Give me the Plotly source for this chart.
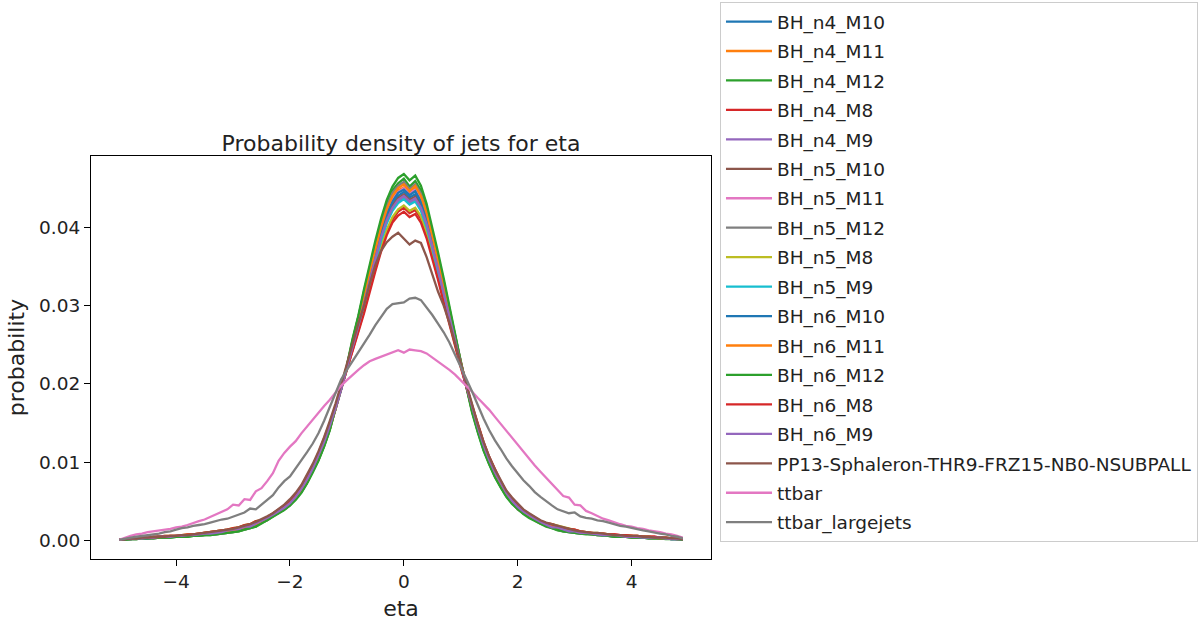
import plotly.graph_objects as go

eta = [-5.0, -4.9, -4.8, -4.7, -4.6, -4.5, -4.4, -4.3, -4.2, -4.1,
       -4.0, -3.9, -3.8, -3.7, -3.6, -3.5, -3.4, -3.3, -3.2, -3.1,
       -3.0, -2.9, -2.8, -2.7, -2.6, -2.5, -2.4, -2.3, -2.2, -2.1,
       -2.0, -1.9, -1.8, -1.7, -1.6, -1.5, -1.4, -1.3, -1.2, -1.1,
       -1.0, -0.9, -0.8, -0.7, -0.6, -0.5, -0.4, -0.3, -0.2, -0.1,
       0.0, 0.1, 0.2, 0.3, 0.4, 0.5, 0.6, 0.7, 0.8, 0.9,
       1.0, 1.1, 1.2, 1.3, 1.4, 1.5, 1.6, 1.7, 1.8, 1.9,
       2.0, 2.1, 2.2, 2.3, 2.4, 2.5, 2.6, 2.7, 2.8, 2.9,
       3.0, 3.1, 3.2, 3.3, 3.4, 3.5, 3.6, 3.7, 3.8, 3.9,
       4.0, 4.1, 4.2, 4.3, 4.4, 4.5, 4.6, 4.7, 4.8, 4.9]

BH_n4_M10 = [
    .0001, .0002, .0002, .0003, .0003, .0004, .0004, .0004, .0005, .0005,
    .0005, .0006, .0006, .0007, .0008, .0008, .0009, .0010, .0011, .0012,
    .0013, .0015, .0017, .0019, .0021,
    .0024, .0028, .0032, .0037, .0041, .0047, .0055, .0065, .0076, .0090,
    .0106, .0124, .0145, .0168, .0194, .0220, .0249, .0277, .0306, .0335,
    .0364, .0391, .0413, .0430, .0440, .0445, .0438, .0442, .0430, .0408,
    .0380, .0350, .0318, .0287, .0255, .0225, .0196, .0168, .0143, .0121,
    .0101, .0086, .0071, .0060, .0050, .0042, .0036, .0031, .0027, .0023, .0020,
    .0018, .0016, .0014, .0013, .0012, .0011, .0010, .0009, .0008, .0008,
    .0007, .0007, .0006, .0006, .0005, .0005, .0005, .0004, .0004, .0004,
    .0003, .0003, .0002, .0002]

BH_n4_M11 = [
    .0001, .0002, .0003, .0003, .0003, .0004, .0004, .0005, .0005, .0005,
    .0006, .0006, .0007, .0007, .0008, .0009, .0009, .0010, .0011, .0013,
    .0014, .0015, .0018, .0018, .0022,
    .0024, .0027, .0031, .0036, .0041, .0046, .0054, .0063, .0075, .0089,
    .0105, .0123, .0144, .0168, .0194, .0222, .0253, .0281, .0311, .0341,
    .0370, .0397, .0420, .0437, .0447, .0451, .0446, .0450, .0437, .0415,
    .0386, .0356, .0324, .0290, .0258, .0226, .0197, .0167, .0142, .0119,
    .0100, .0084, .0070, .0058, .0049, .0041, .0035, .0031, .0026, .0022, .0019,
    .0019, .0016, .0015, .0013, .0012, .0011, .0010, .0009, .0009, .0008,
    .0007, .0007, .0006, .0006, .0006, .0005, .0005, .0004, .0004, .0003,
    .0003, .0003, .0002, .0002]

BH_n4_M12 = [
    .0001, .0001, .0002, .0002, .0003, .0003, .0003, .0004, .0004, .0004,
    .0005, .0005, .0005, .0006, .0006, .0007, .0007, .0008, .0009, .0010,
    .0011, .0012, .0014, .0016, .0018,
    .0023, .0026, .0031, .0035, .0040, .0045, .0053, .0062, .0074, .0088,
    .0103, .0121, .0142, .0169, .0195, .0223, .0256, .0285, .0318, .0349,
    .0379, .0406, .0430, .0447, .0456, .0462, .0452, .0459, .0447, .0424,
    .0395, .0364, .0331, .0295, .0262, .0228, .0197, .0165, .0139, .0116,
    .0098, .0082, .0069, .0057, .0048, .0040, .0035, .0030, .0026, .0022, .0019,
    .0015, .0013, .0012, .0011, .0010, .0009, .0008, .0008, .0007, .0006,
    .0006, .0005, .0005, .0005, .0004, .0004, .0004, .0003, .0003, .0003,
    .0002, .0002, .0002, .0001]

BH_n4_M8 = [
    .0001, .0002, .0003, .0003, .0004, .0004, .0005, .0005, .0005, .0006,
    .0006, .0007, .0007, .0008, .0009, .0010, .0011, .0012, .0013, .0014,
    .0015, .0017, .0019, .0021, .0024,
    .0026, .0030, .0034, .0039, .0044, .0051, .0059, .0069, .0081, .0095,
    .0111, .0129, .0149, .0170, .0194, .0218, .0243, .0268, .0293, .0321,
    .0348, .0373, .0394, .0410, .0420, .0425, .0418, .0422, .0411, .0390,
    .0364, .0336, .0306, .0278, .0249, .0222, .0196, .0171, .0148, .0125,
    .0106, .0090, .0075, .0063, .0053, .0045, .0039, .0033, .0029, .0025, .0022,
    .0021, .0018, .0016, .0015, .0014, .0012, .0011, .0010, .0009, .0009,
    .0008, .0008, .0007, .0007, .0006, .0006, .0005, .0005, .0005, .0004,
    .0004, .0003, .0003, .0002]

BH_n4_M9 = [
    .0001, .0002, .0002, .0003, .0003, .0003, .0004, .0004, .0005, .0005,
    .0005, .0006, .0006, .0007, .0007, .0008, .0009, .0010, .0011, .0012,
    .0014, .0014, .0016, .0020, .0021,
    .0025, .0029, .0033, .0038, .0043, .0049, .0057, .0066, .0078, .0092,
    .0108, .0126, .0147, .0169, .0194, .0220, .0246, .0273, .0301, .0330,
    .0358, .0385, .0407, .0423, .0433, .0438, .0431, .0435, .0423, .0402,
    .0374, .0345, .0314, .0284, .0253, .0224, .0197, .0170, .0145, .0122,
    .0103, .0087, .0073, .0061, .0052, .0044, .0037, .0032, .0028, .0024, .0021,
    .0017, .0017, .0014, .0012, .0012, .0010, .0010, .0009, .0008, .0007,
    .0007, .0007, .0006, .0005, .0005, .0005, .0004, .0004, .0004, .0004,
    .0003, .0002, .0002, .0002]

BH_n5_M10 = [
    .0001, .0002, .0003, .0003, .0003, .0004, .0004, .0005, .0005, .0005,
    .0006, .0006, .0007, .0007, .0008, .0009, .0009, .0010, .0011, .0013,
    .0014, .0015, .0018, .0018, .0022,
    .0024, .0028, .0033, .0037, .0042, .0048, .0056, .0065, .0077, .0091,
    .0107, .0125, .0146, .0168, .0193, .0220, .0248, .0275, .0303, .0333,
    .0362, .0388, .0410, .0427, .0437, .0442, .0435, .0439, .0427, .0405,
    .0378, .0348, .0317, .0286, .0254, .0225, .0196, .0169, .0144, .0121,
    .0102, .0086, .0072, .0060, .0051, .0043, .0037, .0032, .0027, .0023, .0020,
    .0019, .0016, .0015, .0013, .0012, .0011, .0010, .0009, .0009, .0008,
    .0007, .0007, .0006, .0006, .0006, .0005, .0005, .0004, .0004, .0003,
    .0003, .0003, .0002, .0002]

BH_n5_M11 = [
    .0001, .0002, .0002, .0003, .0003, .0004, .0004, .0004, .0005, .0005,
    .0005, .0006, .0006, .0007, .0008, .0008, .0009, .0010, .0011, .0012,
    .0013, .0015, .0017, .0019, .0021,
    .0023, .0027, .0031, .0036, .0041, .0046, .0054, .0063, .0075, .0089,
    .0105, .0123, .0144, .0168, .0194, .0222, .0252, .0280, .0310, .0340,
    .0369, .0396, .0419, .0436, .0445, .0450, .0444, .0448, .0435, .0413,
    .0385, .0355, .0323, .0290, .0258, .0226, .0197, .0167, .0142, .0119,
    .0100, .0084, .0070, .0058, .0049, .0041, .0035, .0031, .0026, .0022, .0019,
    .0018, .0016, .0014, .0013, .0012, .0011, .0010, .0009, .0008, .0008,
    .0007, .0007, .0006, .0006, .0005, .0005, .0005, .0004, .0004, .0004,
    .0003, .0003, .0002, .0002]

BH_n5_M12 = [
    .0001, .0002, .0002, .0002, .0003, .0003, .0003, .0004, .0004, .0005,
    .0005, .0005, .0006, .0006, .0006, .0007, .0008, .0008, .0009, .0010,
    .0011, .0013, .0014, .0016, .0019,
    .0023, .0026, .0031, .0035, .0040, .0045, .0053, .0062, .0074, .0088,
    .0103, .0121, .0142, .0169, .0195, .0223, .0255, .0284, .0316, .0346,
    .0376, .0403, .0427, .0444, .0453, .0458, .0449, .0455, .0443, .0421,
    .0392, .0361, .0329, .0294, .0261, .0227, .0197, .0165, .0140, .0117,
    .0098, .0082, .0069, .0057, .0048, .0040, .0035, .0030, .0026, .0022, .0019,
    .0016, .0014, .0012, .0011, .0010, .0009, .0009, .0008, .0007, .0007,
    .0006, .0005, .0005, .0005, .0004, .0004, .0004, .0003, .0003, .0003,
    .0003, .0002, .0002, .0001]

BH_n5_M8 = [
    .0001, .0002, .0003, .0003, .0004, .0004, .0004, .0005, .0006, .0006,
    .0006, .0007, .0008, .0008, .0009, .0010, .0011, .0012, .0013, .0014,
    .0016, .0017, .0020, .0021, .0025,
    .0026, .0030, .0034, .0039, .0044, .0050, .0058, .0068, .0080, .0094,
    .0110, .0128, .0148, .0170, .0194, .0219, .0244, .0269, .0295, .0323,
    .0350, .0376, .0397, .0413, .0423, .0428, .0421, .0425, .0414, .0393,
    .0366, .0338, .0308, .0279, .0250, .0222, .0196, .0171, .0147, .0124,
    .0105, .0089, .0075, .0062, .0053, .0045, .0038, .0033, .0029, .0025, .0022,
    .0021, .0019, .0017, .0015, .0013, .0012, .0011, .0010, .0010, .0009,
    .0008, .0007, .0007, .0006, .0006, .0006, .0005, .0005, .0004, .0004,
    .0004, .0003, .0003, .0002]

BH_n5_M9 = [
    .0001, .0002, .0002, .0003, .0003, .0004, .0004, .0004, .0005, .0005,
    .0005, .0006, .0006, .0007, .0008, .0008, .0009, .0010, .0011, .0012,
    .0013, .0015, .0017, .0019, .0021,
    .0025, .0029, .0033, .0038, .0043, .0049, .0057, .0067, .0079, .0093,
    .0109, .0127, .0147, .0169, .0194, .0219, .0246, .0272, .0300, .0329,
    .0357, .0383, .0405, .0421, .0431, .0436, .0429, .0433, .0421, .0400,
    .0373, .0344, .0313, .0283, .0252, .0224, .0197, .0170, .0146, .0123,
    .0104, .0088, .0074, .0061, .0052, .0044, .0038, .0032, .0028, .0024, .0021,
    .0017, .0017, .0014, .0012, .0012, .0010, .0010, .0009, .0008, .0007,
    .0007, .0007, .0006, .0005, .0005, .0005, .0004, .0004, .0004, .0004,
    .0003, .0002, .0002, .0002]

BH_n6_M10 = [
    .0001, .0002, .0002, .0003, .0003, .0003, .0004, .0004, .0005, .0005,
    .0005, .0006, .0006, .0007, .0007, .0008, .0009, .0010, .0011, .0012,
    .0014, .0014, .0016, .0020, .0021,
    .0024, .0028, .0032, .0036, .0041, .0047, .0055, .0064, .0076, .0090,
    .0106, .0124, .0145, .0168, .0194, .0221, .0251, .0279, .0308, .0338,
    .0367, .0394, .0417, .0433, .0444, .0448, .0441, .0446, .0433, .0411,
    .0383, .0353, .0321, .0289, .0257, .0226, .0196, .0168, .0143, .0120,
    .0101, .0085, .0071, .0059, .0050, .0042, .0036, .0031, .0027, .0023, .0020,
    .0018, .0016, .0014, .0013, .0012, .0011, .0010, .0009, .0008, .0008,
    .0007, .0007, .0006, .0006, .0005, .0005, .0005, .0004, .0004, .0004,
    .0003, .0003, .0002, .0002]

BH_n6_M11 = [
    .0001, .0002, .0002, .0003, .0003, .0004, .0004, .0004, .0005, .0005,
    .0005, .0006, .0006, .0007, .0008, .0008, .0009, .0010, .0011, .0012,
    .0013, .0015, .0017, .0019, .0021,
    .0023, .0027, .0031, .0035, .0040, .0046, .0054, .0063, .0075, .0089,
    .0104, .0122, .0143, .0168, .0195, .0222, .0254, .0282, .0313, .0343,
    .0373, .0400, .0423, .0440, .0450, .0455, .0446, .0453, .0440, .0418,
    .0389, .0358, .0326, .0292, .0259, .0227, .0197, .0166, .0141, .0118,
    .0099, .0083, .0070, .0058, .0049, .0041, .0035, .0030, .0026, .0022, .0019,
    .0019, .0016, .0015, .0013, .0012, .0011, .0010, .0009, .0009, .0008,
    .0007, .0007, .0006, .0006, .0006, .0005, .0005, .0004, .0004, .0003,
    .0003, .0003, .0002, .0002]

BH_n6_M12 = [
    .0001, .0001, .0002, .0002, .0003, .0003, .0003, .0004, .0004, .0004,
    .0005, .0005, .0005, .0006, .0006, .0007, .0007, .0008, .0009, .0010,
    .0011, .0012, .0014, .0016, .0018,
    .0022, .0026, .0030, .0034, .0039, .0045, .0052, .0061, .0073, .0087,
    .0102, .0120, .0141, .0169, .0196, .0224, .0258, .0287, .0321, .0353,
    .0383, .0411, .0435, .0452, .0463, .0468, .0460, .0466, .0453, .0430,
    .0400, .0368, .0335, .0297, .0264, .0228, .0197, .0163, .0138, .0115,
    .0097, .0081, .0068, .0056, .0047, .0040, .0034, .0029, .0025, .0021, .0018,
    .0016, .0014, .0012, .0011, .0010, .0009, .0009, .0008, .0007, .0007,
    .0006, .0005, .0005, .0005, .0004, .0004, .0004, .0003, .0003, .0003,
    .0003, .0002, .0002, .0001]

BH_n6_M8 = [
    .0001, .0002, .0003, .0003, .0004, .0004, .0004, .0005, .0006, .0006,
    .0006, .0007, .0008, .0008, .0009, .0010, .0011, .0012, .0013, .0014,
    .0016, .0017, .0020, .0021, .0025,
    .0026, .0030, .0035, .0039, .0045, .0051, .0059, .0069, .0082, .0096,
    .0112, .0130, .0150, .0171, .0194, .0218, .0242, .0266, .0290, .0318,
    .0344, .0369, .0390, .0406, .0415, .0420, .0413, .0417, .0406, .0386,
    .0360, .0333, .0304, .0276, .0248, .0221, .0196, .0172, .0149, .0126,
    .0107, .0091, .0076, .0063, .0054, .0046, .0039, .0034, .0029, .0025, .0022,
    .0021, .0018, .0016, .0015, .0014, .0012, .0011, .0010, .0009, .0009,
    .0008, .0008, .0007, .0007, .0006, .0006, .0005, .0005, .0005, .0004,
    .0004, .0003, .0003, .0002]

BH_n6_M9 = [
    .0001, .0002, .0003, .0003, .0003, .0004, .0004, .0005, .0005, .0005,
    .0006, .0006, .0007, .0007, .0008, .0009, .0009, .0010, .0011, .0013,
    .0014, .0015, .0018, .0018, .0022,
    .0025, .0029, .0033, .0037, .0042, .0048, .0056, .0066, .0078, .0092,
    .0108, .0126, .0147, .0169, .0194, .0220, .0247, .0274, .0302, .0332,
    .0360, .0387, .0409, .0425, .0435, .0440, .0433, .0437, .0425, .0404,
    .0376, .0347, .0316, .0285, .0254, .0225, .0197, .0170, .0145, .0122,
    .0103, .0087, .0073, .0061, .0051, .0043, .0037, .0032, .0028, .0024, .0021,
    .0017, .0017, .0014, .0012, .0012, .0010, .0010, .0009, .0008, .0007,
    .0007, .0007, .0006, .0005, .0005, .0005, .0004, .0004, .0004, .0004,
    .0003, .0002, .0002, .0002]

PP13_Sphaleron = [
    .0001, .0002, .0003, .0003, .0004, .0004, .0005, .0005, .0005, .0006,
    .0006, .0007, .0007, .0008, .0009, .0010, .0011, .0012, .0013, .0014,
    .0015, .0017, .0019, .0021, .0024,
    .0027, .0031, .0035, .0040, .0046, .0053, .0061, .0071, .0084, .0098,
    .0114, .0132, .0153, .0175, .0200, .0226, .0252, .0277, .0300, .0328,
    .0352, .0370, .0381, .0388, .0393, .0386, .0378, .0383, .0380, .0362,
    .0340, .0318, .0300, .0278, .0252, .0226, .0199, .0172, .0148, .0126,
    .0107, .0091, .0077, .0064, .0055, .0047, .0040, .0035, .0030, .0026, .0023,
    .0021, .0019, .0017, .0015, .0013, .0012, .0011, .0010, .0010, .0009,
    .0008, .0007, .0007, .0006, .0006, .0006, .0005, .0005, .0004, .0004,
    .0004, .0003, .0003, .0002]

ttbar = [
    .0001, .0004, .0006, .0008, .0009, .0011, .0012, .0013, .0014, .0015,
    .0017, .0018, .0020, .0023, .0025, .0027, .0030, .0033, .0037, .0040,
    .0046, .0045, .0053, .0052, .0063, .0067, .0076, .0086, .0102, .0112,
    .0120, .0127, .0137, .0146, .0155, .0164, .0172, .0180, .0189, .0198,
    .0205, .0212, .0218, .0224, .0229, .0232, .0235, .0238, .0241, .0243,
    .0240, .0244, .0243, .0242, .0239, .0234, .0229, .0224, .0218, .0212,
    .0205, .0198, .0190, .0182, .0175, .0167, .0158, .0149, .0140, .0131,
    .0123, .0113, .0104, .0096, .0088, .0080, .0072, .0064, .0057, .0055,
    .0046, .0045, .0038, .0035, .0031, .0028, .0026, .0023, .0021, .0019,
    .0018, .0016, .0015, .0013, .0012, .0011, .0009, .0008, .0006, .0004]

ttbar_largejets = [
    .0001, .0003, .0004, .0005, .0006, .0007, .0008, .0009, .0011, .0012,
    .0014, .0016, .0017, .0019, .0020, .0021, .0023, .0025, .0027, .0028,
    .0031, .0034, .0036, .0041, .0040, .0046, .0052, .0058, .0068, .0076,
    .0082, .0092, .0102, .0113, .0124, .0137, .0153, .0170, .0188, .0206,
    .0218, .0229, .0240, .0252, .0263, .0275, .0286, .0296, .0302, .0303,
    .0304, .0309, .0310, .0307, .0298, .0288, .0277, .0266, .0253, .0238,
    .0222, .0206, .0190, .0172, .0156, .0141, .0128, .0117, .0105, .0095,
    .0086, .0077, .0070, .0062, .0056, .0050, .0045, .0040, .0037, .0035,
    .0036, .0031, .0029, .0028, .0026, .0025, .0023, .0021, .0019, .0018,
    .0016, .0015, .0013, .0012, .0010, .0009, .0008, .0006, .0005, .0003]

series_names = ["BH_n4_M10", "BH_n4_M11", "BH_n4_M12", "BH_n4_M8", "BH_n4_M9",
                "BH_n5_M10", "BH_n5_M11", "BH_n5_M12", "BH_n5_M8", "BH_n5_M9",
                "BH_n6_M10", "BH_n6_M11", "BH_n6_M12", "BH_n6_M8", "BH_n6_M9",
                "PP13-Sphaleron-THR9-FRZ15-NB0-NSUBPALL", "ttbar", "ttbar_largejets"]
series_values = [BH_n4_M10, BH_n4_M11, BH_n4_M12, BH_n4_M8, BH_n4_M9,
                 BH_n5_M10, BH_n5_M11, BH_n5_M12, BH_n5_M8, BH_n5_M9,
                 BH_n6_M10, BH_n6_M11, BH_n6_M12, BH_n6_M8, BH_n6_M9,
                 PP13_Sphaleron, ttbar, ttbar_largejets]

palette = ["#1f77b4", "#ff7f0e", "#2ca02c", "#d62728", "#9467bd",
           "#8c564b", "#e377c2", "#7f7f7f", "#bcbd22", "#17becf"]

x_tick_vals = [-4, -2, 0, 2, 4]
x_tick_text = ["\u22124", "\u22122", "0", "2", "4"]
y_tick_vals = [0.0, 0.01, 0.02, 0.03, 0.04]
y_tick_text = ["0.00", "0.01", "0.02", "0.03", "0.04"]

for v in series_values:
    assert len(v) == len(eta), len(v)

fig = go.Figure()
for i, (name, vals) in enumerate(zip(series_names, series_values)):
    fig.add_trace(go.Scatter(
        x=eta, y=vals, mode="lines", name=name, legendgroup=name,
        line=dict(color=palette[i % 10], width=2.3),
    ))

fig.update_layout(
    width=1203, height=621,
    margin=dict(l=91, r=492, t=156, b=62, autoexpand=False),
    paper_bgcolor="white", plot_bgcolor="white",
    font=dict(family="DejaVu Sans", size=18.5, color="#222222"),
    title=dict(text="Probability density of jets for eta", x=0.5, xref="paper",
               xanchor="center", y=1, yref="paper", yanchor="bottom",
               pad=dict(b=5), font=dict(size=22, color="#222222")),
    showlegend=True,
    legend=dict(x=1.0145, y=1.3821, xanchor="left", yanchor="top",
                bordercolor="#cccccc", borderwidth=1, bgcolor="white",
                font=dict(size=18.5, color="#222222"), tracegroupgap=2.4,
                itemwidth=46, maxheight=615),
    xaxis=dict(range=[-5.495, 5.395], tickmode="array", tickvals=x_tick_vals,
               ticktext=x_tick_text, showgrid=False, zeroline=False,
               showline=True, mirror=True, linecolor="#000000", linewidth=1,
               ticks="outside", ticklen=6, tickcolor="#000000", tickwidth=1,
               title=dict(text="eta", standoff=9)),
    yaxis=dict(range=[-0.00234, 0.0491], tickmode="array", tickvals=y_tick_vals,
               ticktext=y_tick_text, showgrid=False, zeroline=False,
               showline=True, mirror=True, linecolor="#000000", linewidth=1,
               ticks="outside", ticklen=6, tickcolor="#000000", tickwidth=1,
               title=dict(text="probability", standoff=8)),
)

fig.write_html("out.html")
